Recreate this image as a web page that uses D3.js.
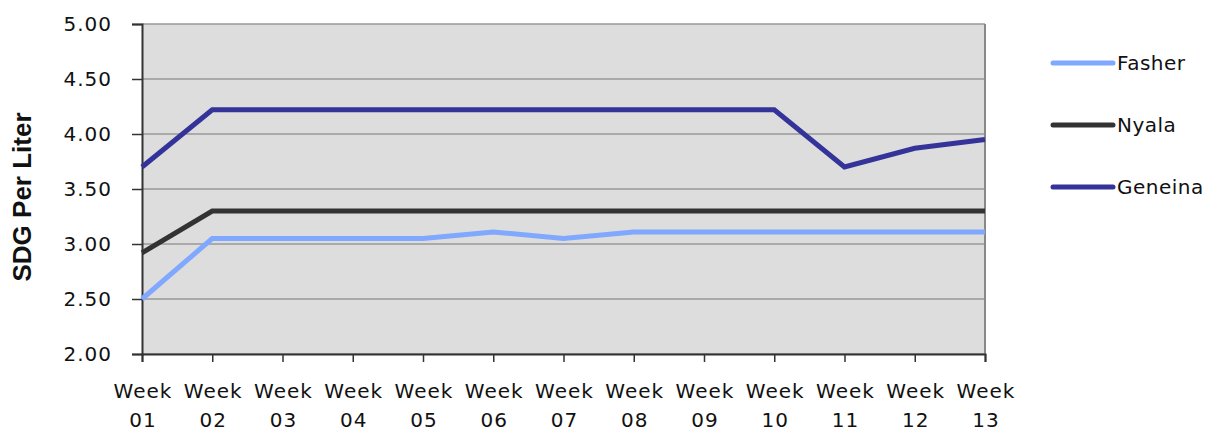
<!DOCTYPE html>
<html>
<head>
<meta charset="utf-8">
<script src="https://cdn.jsdelivr.net/npm/d3@7"></script>
<style>
  body { margin: 0; background: #fff; }
  text { font-family: "DejaVu Sans", sans-serif; fill: #111; }
  .ytitle { font-family: "Liberation Sans", Arial, sans-serif; font-weight: bold; }
</style>
</head>
<body>
<div id="chart"></div>
<script>
const weeks = ['01', '02', '03', '04', '05', '06', '07', '08', '09', '10', '11', '12', '13'];
const fasher = [2.50, 3.05, 3.05, 3.05, 3.05, 3.11, 3.05, 3.11, 3.11, 3.11, 3.11, 3.11, 3.11];
const nyala = [2.92, 3.30, 3.30, 3.30, 3.30, 3.30, 3.30, 3.30, 3.30, 3.30, 3.30, 3.30, 3.30];
const geneina = [3.70, 4.22, 4.22, 4.22, 4.22, 4.22, 4.22, 4.22, 4.22, 4.22, 3.70, 3.87, 3.95];
const yTicks = [2.0, 2.5, 3.0, 3.5, 4.0, 4.5, 5.0];

const series = [
	{ name: 'Fasher', values: fasher, color: '#80a8ff' },
	{ name: 'Nyala', values: nyala, color: '#333333' },
	{ name: 'Geneina', values: geneina, color: '#333399' }
];

var margin = { top: 24, right: 240, bottom: 75, left: 142 },
	width = 1225 - margin.left - margin.right,
	height = 429 - margin.top - margin.bottom;

var svg = d3
	.select('#chart')
	.append('svg')
	.attr('width', 1225)
	.attr('height', 429)
	.append('g')
	.attr('transform', 'translate(' + margin.left + ',' + margin.top + ')');

var x = d3.scalePoint().domain(weeks).range([0, width]);
var y = d3.scaleLinear().domain([2, 5]).range([height, 0]);

// plot background
svg.append('rect')
	.attr('width', width)
	.attr('height', height)
	.attr('fill', '#dddddd');

// gridlines
svg.selectAll('.grid')
	.data(yTicks)
	.enter()
	.append('line')
	.attr('x1', 0)
	.attr('x2', width)
	.attr('y1', (d) => y(d))
	.attr('y2', (d) => y(d))
	.attr('stroke', '#999')
	.attr('stroke-width', 1.5);

// right border
svg.append('line')
	.attr('x1', width).attr('x2', width)
	.attr('y1', 0).attr('y2', height)
	.attr('stroke', '#888').attr('stroke-width', 2);

// y axis
var yAxis = svg.append('g')
	.call(d3.axisLeft(y).tickValues(yTicks).tickFormat(d3.format('.2f')).tickSize(10).tickPadding(20));
yAxis.select('.domain').attr('stroke', '#333').attr('stroke-width', 2);
yAxis.selectAll('.tick line').attr('stroke', '#333').attr('stroke-width', 1.5);
yAxis.selectAll('text')
	.attr('font-size', 20)
	.attr('fill', '#111')
	.style('letter-spacing', '1px')
	.attr('font-family', null);

// x axis
var xAxis = svg.append('g')
	.attr('transform', 'translate(0,' + height + ')')
	.call(d3.axisBottom(x).tickSize(8).tickFormat(''));
xAxis.select('.domain').attr('stroke', '#333').attr('stroke-width', 2);
xAxis.selectAll('.tick line').attr('stroke', '#333').attr('stroke-width', 1.5);

var xl = svg.selectAll('.xlab')
	.data(weeks)
	.enter()
	.append('text')
	.attr('text-anchor', 'middle')
	.attr('font-size', 20)
	.style('letter-spacing', '1px')
	.attr('x', (d) => x(d));
xl.append('tspan').attr('x', (d) => x(d) + 1).attr('y', height + 44).text('Week');
xl.append('tspan').attr('x', (d) => x(d) + 1).attr('y', height + 73).text((d) => d);

// lines
var line = d3.line()
	.x((d, i) => x(weeks[i]))
	.y((d) => y(d));

svg.selectAll('.series')
	.data(series)
	.enter()
	.append('path')
	.attr('d', (d) => line(d.values))
	.attr('fill', 'none')
	.attr('stroke', (d) => d.color)
	.attr('stroke-width', 5);

// y title
svg.append('text')
	.attr('class', 'ytitle')
	.attr('transform', 'translate(' + (-111) + ',' + (height / 2 + 8) + ') rotate(-90)')
	.attr('text-anchor', 'middle')
	.attr('font-size', 26)
	.text('SDG Per Liter');

// legend
var legend = svg.selectAll('.legend')
	.data(series)
	.enter()
	.append('g')
	.attr('transform', (d, i) => 'translate(' + (width + 68) + ',' + (39 + i * 62) + ')');
legend.append('line')
	.attr('x1', 0).attr('x2', 60)
	.attr('stroke', (d) => d.color)
	.attr('stroke-width', 5)
	.attr('stroke-linecap', 'round');
legend.append('text')
	.attr('x', 64)
	.attr('dy', '0.35em')
	.attr('font-size', 20)
	.style('letter-spacing', '0.5px')
	.text((d) => d.name);
</script>
</body>
</html>
